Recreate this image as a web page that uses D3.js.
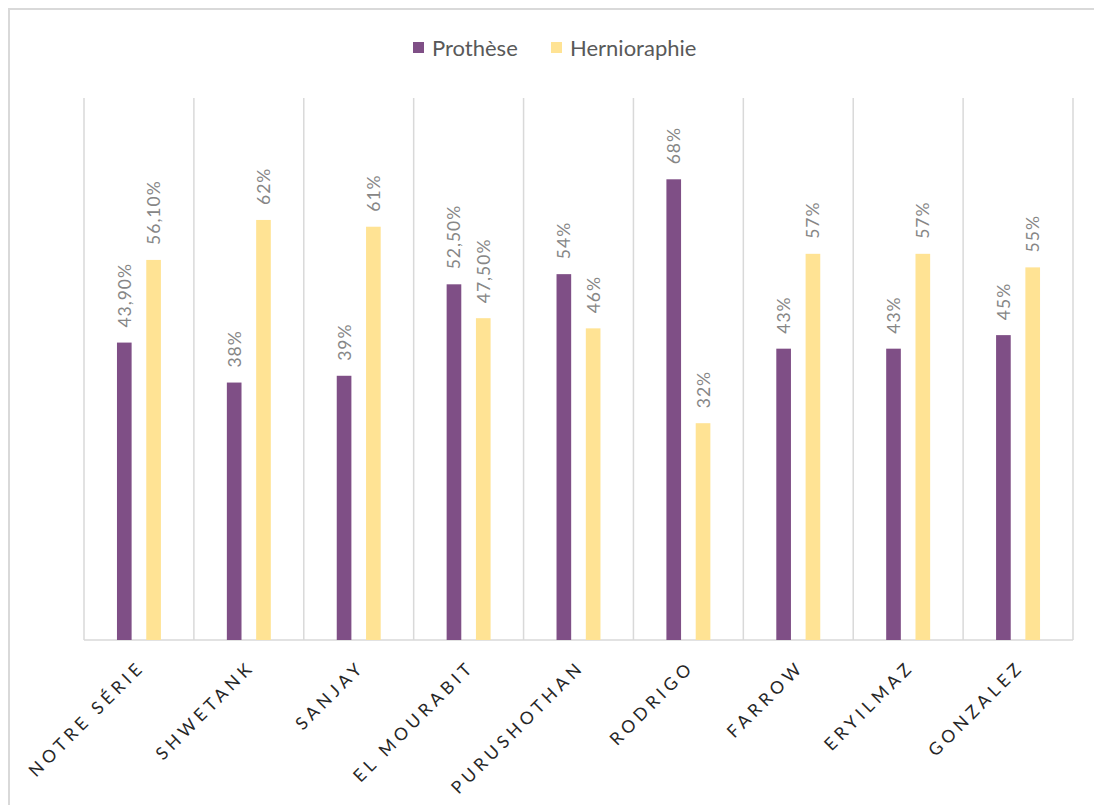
<!DOCTYPE html>
<html><head><meta charset="utf-8">
<script src="https://cdn.jsdelivr.net/npm/d3@7/dist/d3.min.js"></script>
<style>
html,body{margin:0;padding:0;background:#fff;}
svg{display:block;}
</style></head>
<body>
<script>
const categories = ["NOTRE SÉRIE","SHWETANK","SANJAY","EL MOURABIT","PURUSHOTHAN","RODRIGO","FARROW","ERYILMAZ","GONZALEZ"];
const seriesNames = ["Prothèse","Hernioraphie"];
const protheseValues = [43.9,38,39,52.5,54,68,43,43,45];
const hernioValues = [56.1,62,61,47.5,46,32,57,57,55];
const protheseLabels = ["43,90%","38%","39%","52,50%","54%","68%","43%","43%","45%"];
const hernioLabels = ["56,10%","62%","61%","47,50%","46%","32%","57%","57%","55%"];
const colors = ["#7f4f86","#ffe394"];

(function(){
const W = 1094, H = 805;
const svg = d3.select("body").append("svg").attr("width", W).attr("height", H);

svg.append("rect").attr("x",9).attr("y",9).attr("width",W+20).attr("height",H+20)
  .attr("fill","#fff").attr("stroke","#d9d9d9").attr("stroke-width",2);

const pL = 84, pR = 1073, pT = 98, pB = 640;
const x = d3.scaleBand().domain(categories).range([pL,pR]).paddingInner(0).paddingOuter(0);
const y = d3.scaleLinear().domain([0,80]).range([pB, pT]);
const bw = x.bandwidth();
const xs = d3.scaleBand().domain(seriesNames).range([bw*0.3, bw*0.7]).paddingInner(0.5).paddingOuter(0);

const bounds = categories.map(c => x(c)).concat([pR]);
svg.append("g").selectAll("line").data(bounds).join("line")
  .attr("x1", d=>d).attr("x2", d=>d).attr("y1", pT).attr("y2", pB)
  .attr("stroke","#d9d9d9").attr("stroke-width",1.5);
svg.append("line").attr("x1",pL).attr("x2",pR).attr("y1",pB).attr("y2",pB)
  .attr("stroke","#d9d9d9").attr("stroke-width",1.5);

const rows = categories.map((c,i)=>({c, vals:[
  {s:seriesNames[0], v:protheseValues[i], l:protheseLabels[i], col:colors[0]},
  {s:seriesNames[1], v:hernioValues[i], l:hernioLabels[i], col:colors[1]}]}));

const g = svg.append("g").selectAll("g").data(rows).join("g")
  .attr("transform", d=>`translate(${x(d.c)},0)`);
g.selectAll("rect").data(d=>d.vals).join("rect")
  .attr("x", d=>xs(d.s)).attr("width", xs.bandwidth())
  .attr("y", d=>y(d.v)).attr("height", d=>pB - y(d.v))
  .attr("fill", d=>d.col);
g.selectAll("text").data(d=>d.vals).join("text")
  .attr("transform", d=>`translate(${xs(d.s)+xs.bandwidth()/2+6.5},${y(d.v)-15}) rotate(-90)`)
  .attr("text-anchor","start")
  .attr("font-family","Lato, sans-serif").attr("font-size",17.5).attr("letter-spacing",1)
  .attr("fill","#868686").text(d=>d.l);

svg.append("g").selectAll("text").data(categories).join("text")
  .attr("transform", d=>`translate(${x(d)+bw/2+7},${668}) rotate(-45)`)
  .attr("text-anchor","end")
  .attr("font-family","Lato, sans-serif").attr("font-size",17.5).attr("letter-spacing",4.3)
  .attr("fill","#262626").text(d=>d);

const legendItems = [{n:seriesNames[0], c:colors[0], x:413},{n:seriesNames[1], c:colors[1], x:551}];
const lg = svg.append("g").selectAll("g").data(legendItems).join("g")
  .attr("transform", d=>`translate(${d.x},0)`);
lg.append("rect").attr("x",0).attr("y",42).attr("width",11).attr("height",11).attr("fill",d=>d.c);
lg.append("text").attr("x",19).attr("y",55.5).attr("font-family","Lato, sans-serif")
  .attr("font-size",22).attr("fill","#595959").text(d=>d.n);
})();
</script>
</body></html>
